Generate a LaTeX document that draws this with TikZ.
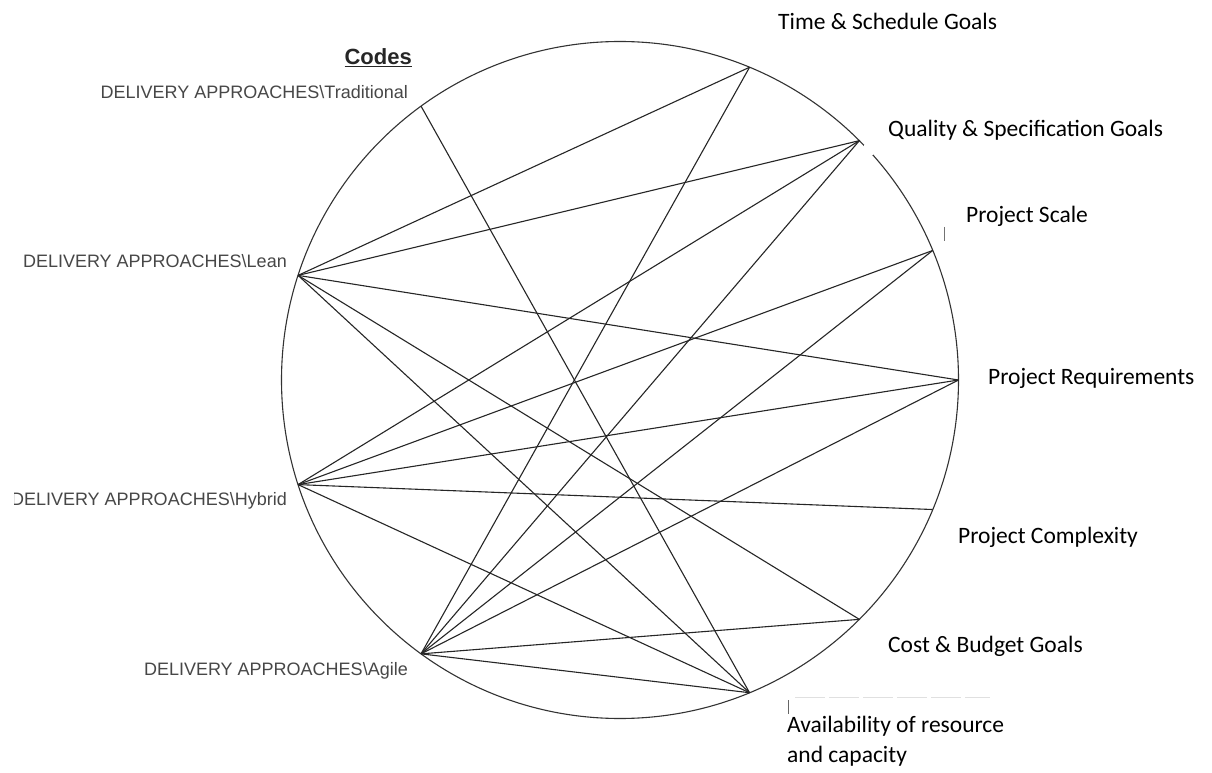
\documentclass[tikz,border=0pt]{standalone}
\usepackage{fontspec}
\setmainfont{Carlito}
\newfontfamily\codefont{Liberation Sans}
\begin{document}
\begin{tikzpicture}[x=1pt,y=1pt,
  edge/.style={draw=black!85, line width=1.1pt},
  ring/.style={draw=black!80, line width=1.1pt},
  code/.style={font=\codefont\fontsize{18}{20}\selectfont, text=black!72, inner sep=0pt},
  factor/.style={font=\fontsize{23.5}{30}\selectfont, inner sep=0pt, text=black, align=left}]
\useasboundingbox (0,0) rectangle (1212,772);
\fill[white] (0,0) rectangle (1212,772);
\coordinate (O) at (620,392);
\draw[ring] (O) circle (338.5);
\begin{scope}[shift={(620,392)}]
  \coordinate (T)  at (126:338.5);
  \coordinate (L)  at (162:338.5);
  \coordinate (H)  at (198:338.5);
  \coordinate (A)  at (234:338.5);
  \coordinate (TS) at (67.5:338.5);
  \coordinate (Q)  at (45:338.5);
  \coordinate (S)  at (22.5:338.5);
  \coordinate (R)  at (0:338.5);
  \coordinate (C)  at (-22.5:338.5);
  \coordinate (CB) at (-45:338.5);
  \coordinate (AV) at (-67.5:338.5);
\end{scope}
% connectors
\draw[edge] (T) -- (AV);
\draw[edge] (L) -- (TS);
\draw[edge] (L) -- (Q);
\draw[edge] (L) -- (R);
\draw[edge] (L) -- (CB);
\draw[edge] (L) -- (AV);
\draw[edge] (H) -- (Q);
\draw[edge] (H) -- (S);
\draw[edge] (H) -- (R);
\draw[edge] (H) -- (C);
\draw[edge] (H) -- (AV);
\draw[edge] (A) -- (TS);
\draw[edge] (A) -- (Q);
\draw[edge] (A) -- (S);
\draw[edge] (A) -- (R);
\draw[edge] (A) -- (CB);
\draw[edge] (A) -- (AV);
% small gap in the ring next to Quality, and stray marks
\fill[white] (864,617) rectangle (873,627);
\draw[black!55, line width=0.8pt] (944,545) -- (944,531);
\draw[black!60, line width=0.8pt] (788,72) -- (788,58);
\draw[black!12, line width=1pt, dash pattern=on 30pt off 4pt] (795,75) -- (990,75);
% code labels
\node[code, anchor=base east, text=black!85, font=\codefont\bfseries\fontsize{22}{24}\selectfont] (codes) at (412,707) {\underline{Codes}};
\node[code, anchor=base east] (lT) at (408,673) {DELIVERY APPROACHES\textbackslash Traditional};
\node[code, anchor=base east] (lL) at (287,504) {DELIVERY APPROACHES\textbackslash Lean};
\node[code, anchor=base east] (lH) at (287,267) {DELIVERY APPROACHES\textbackslash Hybrid};
\node[code, anchor=base east] (lA) at (408,97) {DELIVERY APPROACHES\textbackslash Agile};
\fill[white] (0,255) rectangle (14,290);
% factor labels
\node[factor, anchor=base west] (lTS) at (778,742) {Time \& Schedule Goals};
\node[factor, anchor=base west] (lQ) at (888,635) {Quality \& Specification Goals};
\node[factor, anchor=base west] (lS) at (966,549) {Project Scale};
\node[factor, anchor=base west] (lR) at (988,388) {Project Requirements};
\node[factor, anchor=base west] (lC) at (958,229) {Project Complexity};
\node[factor, anchor=base west] (lCB) at (888,120) {Cost \& Budget Goals};
\node[factor, anchor=north west] (lAV) at (787,56) {Availability of resource\\and capacity};
\end{tikzpicture}
\end{document}
